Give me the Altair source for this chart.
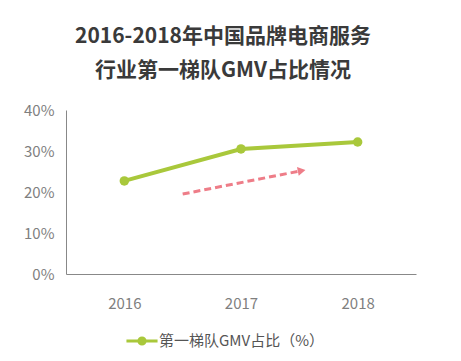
import altair as alt
import pandas as pd

years = [2016, 2017, 2018]
share = [0.227, 0.305, 0.322]
series_name = "第一梯队GMV占比（%）"

arrow_x = [2016.5, 2017.52]
arrow_y = [0.195, 0.252]

FONT = "Noto Sans CJK SC"
GREEN = "#a9c83b"
PINK = "#ee7d88"
GRAY = "#7f7f7f"

df = pd.DataFrame({"year": years, "share": share, "series": [series_name] * len(years)})
arr = pd.DataFrame({"x": arrow_x, "y": arrow_y})
head = pd.DataFrame({"x": [arrow_x[-1]], "y": [arrow_y[-1]]})

xscale = alt.Scale(domain=[2015.5, 2018.5], nice=False, zero=False)
yscale = alt.Scale(domain=[0, 0.4], nice=False)

legend_path = "M-1.5,0L1.5,0M0.3,0A0.3,0.3,0,1,1,-0.3,0A0.3,0.3,0,1,1,0.3,0"

line = alt.Chart(df).mark_line(
    strokeWidth=4, point=alt.OverlayMarkDef(size=90, filled=True, color=GREEN)
).encode(
    x=alt.X("year:Q", scale=xscale, title=None,
            axis=alt.Axis(values=years, format="d", ticks=False, grid=False,
                          domainColor="#888888", labelPadding=22, labelFontSize=15,
                          labelColor=GRAY, labelFont=FONT)),
    y=alt.Y("share:Q", scale=yscale, title=None,
            axis=alt.Axis(values=[0, 0.1, 0.2, 0.3, 0.4], format=".0%", ticks=False, grid=False,
                          domainColor="#888888", labelPadding=12, labelFontSize=15,
                          labelColor=GRAY, labelFont=FONT)),
    color=alt.Color("series:N", scale=alt.Scale(domain=[series_name], range=[GREEN]),
                    legend=alt.Legend(title=None, orient="none", legendX=64, legendY=219,
                                      symbolType=legend_path, symbolSize=430,
                                      symbolStrokeWidth=3, symbolFillColor=GREEN,
                                      symbolStrokeColor=GREEN,
                                      labelFont=FONT, labelFontSize=15, labelColor="#555555",
                                      labelOffset=5, labelLimit=400, padding=0)),
)

arrow_line = alt.Chart(arr).mark_line(
    color=PINK, strokeWidth=3, strokeDash=[7, 4]
).encode(x=alt.X("x:Q", scale=xscale), y=alt.Y("y:Q", scale=yscale))

arrow_head = alt.Chart(head).mark_point(
    shape="triangle-right", filled=True, color=PINK, size=80, opacity=1, angle=349
).encode(x=alt.X("x:Q", scale=xscale), y=alt.Y("y:Q", scale=yscale))

chart = alt.layer(line, arrow_line, arrow_head).properties(
    width=350, height=164,
    autosize=alt.AutoSizeParams(type="none"),
    padding={"left": 58, "top": 102, "right": 37, "bottom": 79},
    title=alt.TitleParams(
        text=["2016-2018年中国品牌电商服务", "行业第一梯队GMV占比情况"],
        font=FONT, fontSize=21, fontWeight="bold", color="#3a3a3a",
        anchor="middle", dx=-18, offset=22, lineHeight=34,
    ),
).configure_view(stroke=None)

chart.save("out.html", embed_options={"renderer": "svg", "actions": False})
